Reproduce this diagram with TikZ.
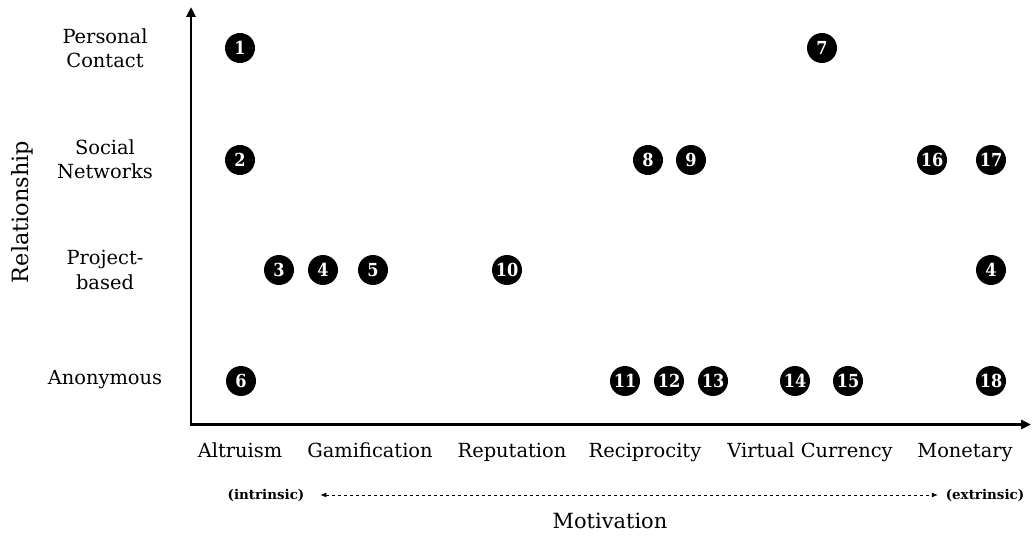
\documentclass[tikz,border=0pt]{standalone}
\usepackage{fontspec}
\setmainfont{DejaVu Serif}
\newfontfamily\dotfont{DejaVu Serif Condensed}
\usetikzlibrary{arrows.meta}
\begin{document}
\begin{tikzpicture}[x=1bp,y=-1bp,
  dot/.style={circle,fill=black,minimum size=30bp,inner sep=0pt,text=white,
    font=\dotfont\fontsize{18}{18}\selectfont\bfseries},
  rowlab/.style={align=center,font=\fontsize{19.5}{24.5}\selectfont},
  collab/.style={anchor=base,font=\fontsize{19.5}{24}\selectfont},
  endlab/.style={font=\fontsize{13.5}{16}\selectfont\bfseries},
  axisline/.style={line width=2.6bp,line join=miter,{Triangle[length=10bp,width=9bp]}-{Triangle[length=10bp,width=9bp]}},
  rangearrow/.style={line width=0.8bp,dash pattern=on 3.3bp off 2.7bp,{Latex[length=6bp,width=5bp]}-{Latex[length=6bp,width=5bp]}}]
\useasboundingbox (0,0) rectangle (1032,541);

% axes
\coordinate (origin) at (191,424.5);
\coordinate (ytip) at (191,7);
\coordinate (xtip) at (1031,424.5);
\draw[axisline] (ytip) -- (origin) -- (xtip);

% relationship levels
\node[rowlab] (personal) at (105,48) {Personal\\Contact};
\node[rowlab] (social) at (105,159) {Social\\Networks};
\node[rowlab] (project) at (105,270) {Project-\\based};
\node[rowlab] (anon) at (105,380) {Anonymous};

% motivation levels
\node[collab] (altruism) at (240,457) {Altruism};
\node[collab] (gamification) at (370,457) {Gamification};
\node[collab] (reputation) at (512,457) {Reputation};
\node[collab] (reciprocity) at (645,457) {Reciprocity};
\node[collab] (virtual) at (810,457) {Virtual Currency};
\node[collab] (monetary) at (965,457) {Monetary};

% intrinsic / extrinsic scale
\node[endlab] (intrinsic) at (266,495) {(intrinsic)};
\node[endlab] (extrinsic) at (985,495) {(extrinsic)};
\draw[rangearrow] ([xshift=12.5bp]intrinsic.east) -- ([xshift=-4.5bp]extrinsic.west);

% axis titles
\node[font=\fontsize{21}{26}\selectfont] (motivation) at (610,521) {Motivation};
\node[font=\fontsize{22.5}{26}\selectfont,rotate=90] (relationship) at (22,212) {Relationship};

% row: personal contact
\node[dot] (p1) at (240,48) {1};
\node[dot] (p7) at (822,48) {7};
% row: social networks
\node[dot] (s2) at (240,160) {2};
\node[dot] (s8) at (648,160) {8};
\node[dot] (s9) at (691,160) {9};
\node[dot] (s16) at (932,160) {16};
\node[dot] (s17) at (991,160) {17};
% row: project-based
\node[dot] (b3) at (279,270) {3};
\node[dot] (b4) at (323,270) {4};
\node[dot] (b5) at (373,270) {5};
\node[dot] (b10) at (507,270) {10};
\node[dot] (b4m) at (991,270) {4};
% row: anonymous
\node[dot] (a6) at (241,381) {6};
\node[dot] (a11) at (625,381) {11};
\node[dot] (a12) at (669,381) {12};
\node[dot] (a13) at (713,381) {13};
\node[dot] (a14) at (795,381) {14};
\node[dot] (a15) at (848,381) {15};
\node[dot] (a18) at (991,381) {18};
\end{tikzpicture}
\end{document}
